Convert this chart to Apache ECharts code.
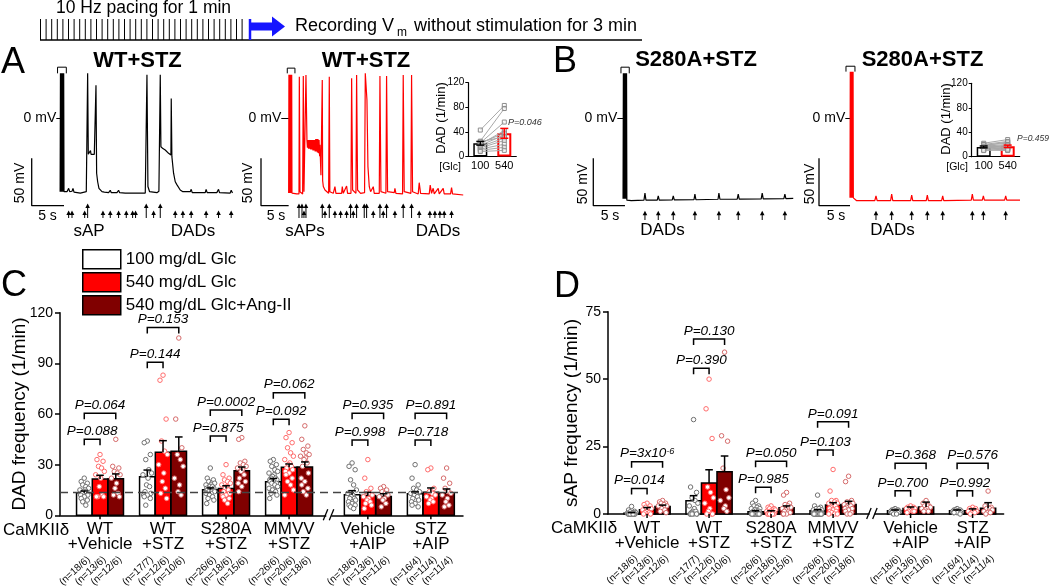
<!DOCTYPE html>
<html><head><meta charset="utf-8">
<script src="https://cdn.jsdelivr.net/npm/echarts@6/dist/echarts.min.js"></script>
<style>html,body{margin:0;padding:0;background:#fff}#c{width:1050px;height:588px}</style>
</head><body><div id="c"></div>
<script>
// ================= DATA =================
const GROUPS = ['WT\n+Vehicle', 'WT\n+STZ', 'S280A\n+STZ', 'MMVV\n+STZ', 'Vehicle\n+AIP', 'STZ\n+AIP'];
const SERIES_NAMES = ['100 mg/dL Glc', '540 mg/dL Glc', '540 mg/dL Glc+Ang-II'];
const N_LABELS = [
  ['(n=18/6)', '(n=13/6)', '(n=12/6)'], ['(n=17/7)', '(n=12/6)', '(n=10/6)'],
  ['(n=26/6)', '(n=18/6)', '(n=15/6)'], ['(n=26/6)', '(n=20/6)', '(n=18/6)'],
  ['(n=18/6)', '(n=13/6)', '(n=11/6)'], ['(n=16/4)', '(n=11/4)', '(n=11/4)']
];
// Panel C: DAD frequency (1/min)
const DAD_MEAN_100 = [13.4, 22.9, 15.2, 19.9, 12.2, 12.8];
const DAD_SEM_100  = [1.0, 3.9, 1.0, 1.9, 2.4, 1.2];
const DAD_MEAN_540 = [21.5, 37.3, 15.9, 28.4, 11.8, 13.6];
const DAD_SEM_540  = [2.2, 6.9, 1.6, 2.0, 1.8, 2.6];
const DAD_MEAN_ANG = [21.7, 37.9, 26.4, 28.6, 11.2, 13.2];
const DAD_SEM_ANG  = [2.8, 8.5, 2.2, 3.0, 1.6, 2.4];
const DAD_PTS_100 = [
  [22,20,19,18,17,16,15,15,14,14,13,12,12,11,10,9,8,6],
  [44,43,36,33,27,25,24,22,18,17,14,13,12,12,11,10,6],
  [28,22,21,20,19,19,18,18,17,17,16,16,16,15,15,15,14,14,14,13,13,12,11,10,9,7],
  [33,32,30,29,27,26,25,24,23,22,22,21,21,20,20,19,19,18,17,16,15,15,14,13,12,10],
  [31,29,27,21,18,15,13,12,11,10,10,9,8,7,6,6,5,4],
  [30,22,18,16,15,14,13,13,12,11,10,9,8,7,6,5]
];
const DAD_PTS_540 = [
  [36,33,32,29,28,26,24,22,17,12,11,11,11],
  [83,80,57,44,38,36,30,25,20,16,13,10],
  [30,24,22,21,20,19,18,17,16,15,14,13,12,12,11,10,9,7],
  [49,46,43,40,37,35,33,31,30,29,28,27,26,25,24,22,20,18,15,12],
  [33,22,16,14,13,12,11,10,9,8,7,6,4],
  [28,27,16,14,13,12,11,10,9,8,7]
];
const DAD_PTS_ANG = [
  [45,29,28,26,25,24,22,19,16,13,12,11],
  [105,57,40,36,33,29,22,18,14,12],
  [46,45,32,31,30,29,28,27,26,24,22,20,19,17,14],
  [53,45,41,39,37,36,35,34,33,31,29,25,22,20,18,16,14,12],
  [17,16,15,14,13,12,11,10,9,7,5],
  [28,22,19,16,14,13,12,10,8,6,5]
];
const DAD_REF_LINE = 13.4;
const DAD_TICKS = [0, 30, 60, 90, 120];
// brackets: [group, 0 = 100 vs 540, 1 = 100 vs Ang-II, height]
const DAD_BRACKETS = [[0,0,45],[0,1,60.4],[1,0,90.6],[1,1,111.3],[2,0,47],[2,1,62.4],[3,0,56.9],[3,1,72.6],[4,0,44.6],[4,1,60.4],[5,0,44.6],[5,1,60.4]];
const DAD_P = ['P=0.088','P=0.064','P=0.144','P=0.153','P=0.875','P=0.0002','P=0.092','P=0.062','P=0.998','P=0.935','P=0.718','P=0.891'];

// Panel D: sAP frequency (1/min)
const SAP_MEAN_100 = [0.3, 4.9, 0.8, 1.2, 1.2, 1.2];
const SAP_SEM_100  = [0.2, 1.9, 0.4, 0.4, 0.3, 0.3];
const SAP_MEAN_540 = [1.6, 11.5, 0.8, 3.3, 2.0, 1.2];
const SAP_SEM_540  = [0.8, 4.9, 0.4, 0.9, 0.6, 0.7];
const SAP_MEAN_ANG = [2.8, 15.7, 2.3, 3.5, 2.6, 2.1];
const SAP_SEM_ANG  = [0.5, 5.8, 0.7, 1.2, 1.8, 2.1];
const SAP_PTS_100 = [
  [2.8,1.5,1.0,0.8,0.5,0.5,0.3,0.2,0,0,0,0,0,0,0,0,0,0],
  [35,10,8,6,5,4,3,2,1,1,0.5,0,0,0,0,0,0],
  [5,4,3,3,2.5,2,2,1.5,1.5,1,1,1,0.5,0.5,0.5,0,0,0,0,0,0,0,0,0,0,0],
  [7,3,2.5,2,2,1.5,1.5,1,1,1,0.5,0.5,0.5,0,0,0,0,0,0,0,0,0,0,0,0,0],
  [2,1.5,1.5,1.5,1,1,1,1,1,1,1,1,0.5,0.5,0.5,0.5,0,0],
  [2,1.5,1.5,1.5,1,1,1,1,1,1,1,0.5,0.5,0.5,0.5,0]
];
const SAP_PTS_540 = [
  [4,3.5,3,2.5,2,2,1.5,1,1,0.5,0.5,0,0],
  [50,39,28,10,8,6,4,2,1,0,0,0],
  [3,2.5,2,2,1.5,1.5,1,1,1,0.5,0.5,0.5,0,0,0,0,0,0],
  [16.5,8.5,5,5,4.5,4,4,3.5,3,3,2.5,2,2,1.5,1,1,0.5,0,0,0],
  [3,2.5,2.5,2,2,2,2,1.5,1.5,1,1,1,0.5],
  [2.5,2,2,1.5,1.5,1,1,1,0.5,0.5,0]
];
const SAP_PTS_ANG = [
  [5,4.5,4,4,3.5,3,3,2.5,2,1.5,1,0.5],
  [60,29,27,17,9,6,5,3,2,1],
  [8,7,4,3.5,3,2.5,2,2,1.5,1,1,0.5,0,0,0],
  [14,12,5,4.5,4,4,3.5,3.5,3,3,2.5,2,2,1.5,1,0.5,0,0],
  [5,4,3,3,3,2.5,2,2,1.5,1,1],
  [8.5,3,2.5,2,2,1.5,1,1,0.5,0.5,0]
];
const SAP_TICKS = [0, 25, 50, 75];
const SAP_BRACKETS = [[0,0,9.5],[0,1,19.4],[1,0,54],[1,1,64.9],[2,0,9.9],[2,1,19.6],[3,0,23.7],[3,1,34.2],[4,0,8.6],[4,1,18.8],[5,0,8.6],[5,1,18.8]];
const SAP_P = ['P=0.014','P=3x10^-6','P=0.390','P=0.130','P=0.985','P=0.050','P=0.103','P=0.091','P=0.700','P=0.368','P=0.992','P=0.576'];

// Membrane potential traces: [time (s), Vm (mV)]
const TRACE_WT_100 = [[-0.6,-77.5],[-0.55,47.5],[-0.5,-77.5],[-0.45,47.5],[-0.4,-77.5],[-0.35,47.5],[-0.3,-77.5],[-0.25,47.5],[-0.2,-77.5],[-0.15,47.5],[-0.1,-77.5],[-0.05,47.5],[0,-77.5],[0.46,-77.5],[0.72,-74],[0.88,-77.5],[1.24,-77],[1.39,-74],[1.55,-78],[2.53,-79],[3.45,-77.5],[3.6,-77],[3.66,47.5],[3.76,-38],[3.97,-39],[4.1,-34],[4.18,-38],[4.33,-36],[4.48,-40],[4.69,-38],[4.85,-40],[4.95,35],[5.05,-58],[5.21,-67],[5.41,-74],[5.88,-77.5],[6.13,-76],[6.24,-78],[6.91,-78.5],[7.16,-76],[7.32,-78.5],[8.2,-78.5],[8.45,-76],[8.61,-78.5],[9.48,-79],[9.64,-77],[9.79,-79],[10.52,-79],[10.77,-77],[10.93,-79],[11.08,-77],[11.24,-79],[12.58,-79],[12.73,-77.5],[12.84,46],[12.99,-72],[13.25,-77.5],[14.38,-78.5],[14.69,-77],[14.85,-77],[14.9,46],[15.0,-30],[15.31,-32],[15.67,-33.5],[16.19,-37],[16.55,-38.7],[16.6,21],[16.7,-40.5],[16.96,-58],[17.22,-67],[17.47,-70],[17.99,-75.7],[18.25,-74],[18.4,-77.5],[19.54,-77.5],[19.69,-75],[19.85,-78.5],[21.86,-78.5],[22.0,-75],[22.16,-78.5],[23.66,-78.5],[23.92,-75],[24.07,-78.5],[25.72,-79],[25.88,-76],[26.08,-79]];
const TRACE_WT_540 = [[0,-79],[0.05,46],[0.1,-79],[0.15,46],[0.2,-79],[0.25,46],[0.3,-79],[0.35,46],[0.4,-79],[0.45,46],[0.5,-79],[0.55,46],[0.6,-79],[0.72,-79.2],[1.45,-79.9],[1.87,-79.9],[1.93,44],[2.05,-77.5],[2.53,-79.9],[2.65,44.7],[2.77,-77.5],[3.07,-79.2],[3.13,45.8],[3.31,-23],[3.4,-31],[3.5,-23],[3.6,-32],[3.7,-23],[3.8,-32],[3.9,-23],[4.0,-33],[4.1,-23],[4.2,-33],[4.3,-23],[4.4,-34],[4.5,-23],[4.6,-34],[4.7,-23],[4.8,-35],[4.9,-22],[5.0,-35],[5.1,-22],[5.2,-36],[5.3,-22],[5.4,-37],[5.5,-23],[5.6,-40],[5.66,-28],[5.84,-60],[5.96,-62],[6.08,40.5],[6.15,-66],[6.27,-72],[6.57,-75.7],[6.87,-77.5],[7.23,-79.2],[7.35,44],[7.45,-77.5],[8.07,-79.2],[8.37,-72.2],[8.55,-79.2],[9.58,-79.2],[9.7,-72],[9.88,-79.2],[10.48,-71.5],[10.66,-79.2],[11.27,-79.2],[11.39,42.3],[11.57,-75.7],[12.17,-79.2],[12.29,45.8],[12.47,-75.7],[13.01,-79.2],[13.73,-78.5],[13.86,47.5],[14.04,45.8],[14.16,19.4],[14.34,-51],[14.58,-72.2],[14.82,-77.5],[15.3,-72.2],[15.48,-79.2],[16.39,-79.2],[16.51,44.7],[16.69,-77.5],[17.59,-79.2],[17.71,44.7],[17.89,-77.5],[19.1,-78.5],[19.22,-73.9],[19.4,-79.2],[20.6,-79.9],[20.72,45.8],[20.9,-77.5],[22.11,-79.2],[22.23,45.8],[22.41,-77.5],[23.43,-79.9],[23.61,-68],[23.86,-79.2],[25.42,-79.9],[25.6,-70.4],[25.84,-79.2],[26.14,-73.9],[26.33,-79.9],[27.05,-73.9],[27.23,-79.9],[27.95,-73.9],[28.13,-79.9],[29.28,-79.9],[29.46,-73.2],[29.64,-79.9],[31.57,-81]];
const TRACE_S280A_100 = [[-0.3,-85],[-0.25,47.5],[-0.2,-85],[-0.15,47.5],[-0.1,-85],[-0.05,47.5],[0,-85],[0.05,47.5],[0.1,-85],[0.15,47.5],[0.2,-85],[0.25,47.5],[0.3,-86.5],[1,-87],[3.0,-86.5],[3.16,-79],[3.32,-86.5],[5.1,-86.5],[5.26,-82],[5.42,-86.5],[7.47,-86.2],[7.63,-82],[7.79,-86.2],[10.9,-86],[11.05,-80],[11.21,-86],[14.7,-85.5],[14.84,-79],[15.0,-85.5],[17.73,-85.3],[17.89,-80],[18.05,-85.3],[21.52,-85],[21.68,-79],[21.84,-85],[25.1,-84.8],[25.26,-80],[25.42,-84.8],[26.58,-84.6]];
const TRACE_S280A_540 = [[0,-84],[0.045,49.3],[0.09,-84],[0.135,49.3],[0.18,-84],[0.225,49.3],[0.27,-84],[0.315,49.3],[0.36,-84],[0.405,49.3],[0.45,-84],[0.495,49.3],[0.54,-84],[0.8,-86],[1.08,-87],[4.0,-87],[4.19,-82],[4.38,-87],[6.55,-87],[6.72,-80],[6.9,-87],[9.78,-87],[9.95,-81],[10.12,-87],[12.3,-87],[12.47,-81],[12.64,-87],[14.78,-87],[14.95,-82],[15.12,-87],[19.56,-86.5],[19.73,-80],[19.9,-86.5],[21.34,-86.5],[21.51,-82],[21.68,-86.5],[24.94,-86.5],[25.11,-82],[25.28,-86.5],[27.42,-86.5]];
// event arrows: [time (s), 1 = sAP (tall) / 0 = DAD (short)]
const EVENTS_WT_100 = [[0.72,0],[1.24,0],[3.2,0],[3.66,1],[6.03,0],[7.16,0],[8.45,0],[9.64,0],[10.62,0],[11.08,0],[12.73,1],[13.87,0],[14.9,1],[17.22,0],[18.4,0],[19.69,0],[22.0,0],[23.92,0],[25.88,0]];
const EVENTS_WT_540 = [[1.87,1],[2.41,1],[2.77,0],[3.13,1],[6.08,1],[6.57,0],[7.35,1],[8.37,0],[9.4,0],[10.48,0],[11.2,1],[11.69,0],[12.29,1],[13.67,1],[14.1,1],[15.3,0],[16.51,1],[17.11,0],[17.71,1],[19.22,0],[20.72,1],[22.23,1],[23.61,0],[25.54,0],[26.45,0],[27.35,0],[28.13,0],[29.46,0]];
const EVENTS_S280A_100 = [[3.16,0],[5.26,0],[7.63,0],[11.05,0],[14.84,0],[17.89,0],[21.68,0],[25.26,0]];
const EVENTS_S280A_540 = [[4.19,0],[6.72,0],[9.95,0],[12.47,0],[14.95,0],[19.73,0],[21.51,0],[25.11,0]];
// Insets: paired DAD frequency (1/min), 100 vs 540 mg/dL
const INSET_WT_100 = [43,25,22,20,18,16,14,12,10,8,22,24];
const INSET_WT_540 = [83,78,56,42,35,30,26,20,15,10,38,32];
const INSET_WT_MEAN = [21.5, 37.7];
const INSET_WT_SEM = [3, 8];
const INSET_S280A_100 = [22,20,19,18,17,16,15,15,14,13,12,11,10,20,17];
const INSET_S280A_540 = [28,25,22,24,20,18,16,14,19,12,15,10,13,14,11];
const INSET_S280A_MEAN = [16, 17];
const INSET_S280A_SEM = [1.5, 2];
const INSET_CATS = ['100', '540'];
const SCALE_MV = 50, SCALE_S = 5;
const PACING_TICK_COUNT = 37;

// ================= STYLE / LAYOUT =================
const FONT = 'Liberation Sans';
const GROUP_POS = [1, 2, 3, 4, 5.25, 6.25];
const BREAK_X = 4.63;
const BAR_STEP = 0.25, BAR_W = 0.245;
const BAR_FILLS = ['#ffffff', '#ff0000', '#800000'];
const DOT_STROKES = ['#707070', '#ff6b6b', '#d56a6a'];
const JIT = [0, -0.6, 0.6, -0.3, 0.3, 0.85, -0.85, 0.15, -0.15, 0.45, -0.45, 0.7, -0.7];

function barPanel(gi, means, sems, pts, brackets, plabels) {
  const out = [];
  for (let k = 0; k < 3; k++) {
    out.push({
      type: 'custom', name: SERIES_NAMES[k], xAxisIndex: gi, yAxisIndex: gi, z: 2, silent: true,
      data: means[k].map((m, g) => [g, m, sems[k][g]]),
      renderItem: (p, api) => {
        const g = api.value(0), m = api.value(1);
        const xc = GROUP_POS[g] + (k - 1) * BAR_STEP;
        const a = api.coord([xc - BAR_W / 2, m]), b = api.coord([xc + BAR_W / 2, 0]);
        return { type: 'rect', shape: { x: a[0], y: a[1], width: b[0] - a[0], height: b[1] - a[1] },
          style: { fill: BAR_FILLS[k], stroke: '#000', lineWidth: 1.5 } };
      }
    });
    const dots = [];
    pts[k].forEach((vals, g) => vals.forEach((v, i) => {
      dots.push([GROUP_POS[g] + (k - 1) * BAR_STEP + JIT[i % JIT.length] * BAR_W * 0.33, v]);
    }));
    out.push({ type: 'scatter', xAxisIndex: gi, yAxisIndex: gi, z: 3, silent: true, data: dots,
      symbol: 'circle', symbolSize: 4.5,
      itemStyle: { color: '#fff', borderColor: DOT_STROKES[k], borderWidth: 1, opacity: 1 } });
    out.push({
      type: 'custom', xAxisIndex: gi, yAxisIndex: gi, z: 4, silent: true,
      data: means[k].map((m, g) => [g, m, sems[k][g]]),
      renderItem: (p, api) => {
        const g = api.value(0), m = api.value(1), s = api.value(2);
        const xc = GROUP_POS[g] + (k - 1) * BAR_STEP;
        const t = api.coord([xc, m + s]), b = api.coord([xc, m]);
        return { type: 'group', children: [
          { type: 'line', shape: { x1: t[0], y1: b[1], x2: t[0], y2: t[1] }, style: { stroke: '#000', lineWidth: 1.5 } },
          { type: 'line', shape: { x1: t[0] - 3.8, y1: t[1], x2: t[0] + 3.8, y2: t[1] }, style: { stroke: '#000', lineWidth: 1.5 } }
        ] };
      }
    });
  }
  // brackets with P values
  out.push({
    type: 'custom', xAxisIndex: gi, yAxisIndex: gi, z: 5, silent: true, data: brackets,
    renderItem: (p, api) => {
      const g = api.value(0), big = api.value(1), y = api.value(2);
      const a = api.coord([GROUP_POS[g] - BAR_STEP, y]);
      const b = api.coord([GROUP_POS[g] + (big ? BAR_STEP : 0), y]);
      const lab = plabels[p.dataIndex];
      let text;
      if (lab.indexOf('^') >= 0) {
        const parts = lab.split('^');
        text = '{b|' + parts[0] + '}{s|' + parts[1] + '}';
      } else text = '{b|' + lab + '}';
      const rich = { b: { fontSize: 13.5, fontStyle: 'italic', fontFamily: FONT, fill: '#000', color: '#000' },
               s: { fontSize: 9, fontStyle: 'italic', fontFamily: FONT, verticalAlign: 'top', fill: '#000', color: '#000' } };
      return { type: 'group', children: [
        { type: 'polyline', shape: { points: [[a[0], a[1] + 6], [a[0], a[1]], [b[0], a[1]], [b[0], a[1] + 6]] },
          style: { stroke: '#000', lineWidth: 1.5, fill: null } },
        { type: 'text', x: (a[0] + b[0]) / 2, y: a[1] - 1,
          style: { text, rich, align: 'center', verticalAlign: 'bottom', textAlign: 'center', textVerticalAlign: 'bottom',
            fontSize: 13.5, fontStyle: 'italic', fontFamily: FONT, fill: '#000' } }
      ] };
    }
  });
  // category labels, ticks, n labels
  out.push({
    type: 'custom', xAxisIndex: gi, yAxisIndex: gi, z: 5, silent: true,
    data: GROUPS.map((_, g) => [g, 0]),
    renderItem: (p, api) => {
      const g = api.value(0);
      const c = api.coord([GROUP_POS[g], 0]);
      const ch = [
        { type: 'line', shape: { x1: c[0], y1: c[1], x2: c[0], y2: c[1] + 4 }, style: { stroke: '#000', lineWidth: 1.5 } },
        { type: 'text', x: c[0], y: c[1] + 7, style: { text: GROUPS[g], fontSize: 17, lineHeight: 15, fontFamily: FONT, fill: '#000',
          align: 'center', verticalAlign: 'top', textAlign: 'center', textVerticalAlign: 'top' } }
      ];
      for (let k = 0; k < 3; k++) {
        const bx = api.coord([GROUP_POS[g] + (k - 1) * BAR_STEP, 0])[0];
        ch.push({ type: 'text', x: bx + 4.5, y: c[1] + 43, rotation: 42 * Math.PI / 180,
          style: { text: N_LABELS[g][k], fontSize: 10, fontFamily: FONT, fill: '#000',
            align: 'right', verticalAlign: 'middle', textAlign: 'right', textVerticalAlign: 'middle' } });
      }
      return { type: 'group', children: ch };
    }
  });
  // axis break
  out.push({
    type: 'custom', xAxisIndex: gi, yAxisIndex: gi, z: 6, silent: true, data: [[BREAK_X, 0]],
    renderItem: (p, api) => {
      const c = api.coord([api.value(0), api.value(1)]);
      return { type: 'group', children: [
        { type: 'rect', shape: { x: c[0] - 2.5, y: c[1] - 2, width: 5, height: 4 }, style: { fill: '#fff' } },
        { type: 'line', shape: { x1: c[0] - 5.5, y1: c[1] + 5, x2: c[0] - 1, y2: c[1] - 6 }, style: { stroke: '#000', lineWidth: 1.3 } },
        { type: 'line', shape: { x1: c[0] + 0.5, y1: c[1] + 5, x2: c[0] + 5, y2: c[1] - 6 }, style: { stroke: '#000', lineWidth: 1.3 } }
      ] };
    }
  });
  return out;
}

function traceSeries(gi, data, color, events, arrowBase, arrowTall, arrowShort, paceMark) {
  const sbBottom = -92.3;
  return [
    { type: 'line', xAxisIndex: gi, yAxisIndex: gi, data, symbol: 'none', silent: true,
      lineStyle: { color, width: 1.2 }, z: 2 },
    { type: 'line', xAxisIndex: gi, yAxisIndex: gi, symbol: 'none', silent: true,
      data: [[-SCALE_S, sbBottom + SCALE_MV], [-SCALE_S, sbBottom], [0, sbBottom]],
      lineStyle: { color: '#000', width: 1.3 } },
    { type: 'line', xAxisIndex: gi, yAxisIndex: gi, symbol: 'none', silent: true,
      data: paceMark, lineStyle: { color: '#000', width: 1 } },
    { type: 'custom', xAxisIndex: gi, yAxisIndex: gi, silent: true, data: events,
      renderItem: (p, api) => {
        const t = api.value(0), tall = api.value(1);
        const b = api.coord([t, arrowBase]), tp = api.coord([t, tall ? arrowTall : arrowShort]);
        return { type: 'group', children: [
          { type: 'line', shape: { x1: b[0], y1: b[1], x2: b[0], y2: tp[1] + 3 }, style: { stroke: '#000', lineWidth: 1 } },
          { type: 'polygon', shape: { points: [[tp[0] - 2.3, tp[1] + 4.5], [tp[0], tp[1]], [tp[0] + 2.3, tp[1] + 4.5]] }, style: { fill: '#000' } }
        ] };
      } }
  ];
}

function insetSeries(gi, left, right, means, sems) {
  return [
    { type: 'bar', xAxisIndex: gi, yAxisIndex: gi, barWidth: 14, silent: true, z: 2,
      data: [{ value: means[0], itemStyle: { color: '#fff', borderColor: '#000', borderWidth: 1.5 } },
             { value: means[1], itemStyle: { color: '#fff', borderColor: '#ff0000', borderWidth: 2 } }] },
    { type: 'custom', xAxisIndex: gi, yAxisIndex: gi, silent: true, z: 3,
      data: left.map((l, i) => [l, right[i]]),
      renderItem: (p, api) => {
        const a = api.coord([0, api.value(0)]), b = api.coord([1, api.value(1)]);
        const sq = (q) => ({ type: 'rect', shape: { x: q[0] - 2, y: q[1] - 2, width: 4, height: 4 }, style: { fill: 'rgba(255,255,255,0.6)', stroke: '#8c8c8c', lineWidth: 1 } });
        return { type: 'group', children: [
          { type: 'line', shape: { x1: a[0], y1: a[1], x2: b[0], y2: b[1] }, style: { stroke: '#a8a8a8', lineWidth: 1 } },
          sq(a), sq(b)
        ] };
      } },
    { type: 'custom', xAxisIndex: gi, yAxisIndex: gi, silent: true, z: 4,
      data: means.map((m, i) => [i, m, sems[i]]),
      renderItem: (p, api) => {
        const i = api.value(0), m = api.value(1), s = api.value(2);
        const t = api.coord([i, m + s]), b = api.coord([i, m - s]);
        const col = i === 0 ? '#000' : '#ff0000';
        return { type: 'group', children: [
          { type: 'line', shape: { x1: t[0], y1: t[1], x2: t[0], y2: b[1] }, style: { stroke: col, lineWidth: 1.5 } },
          { type: 'line', shape: { x1: t[0] - 4, y1: t[1], x2: t[0] + 4, y2: t[1] }, style: { stroke: col, lineWidth: 1.5 } },
          { type: 'line', shape: { x1: t[0] - 4, y1: b[1], x2: t[0] + 4, y2: b[1] }, style: { stroke: col, lineWidth: 1.5 } }
        ] };
      } }
  ];
}

// ============ axes ============
const hiddenX = (min, max, gi) => ({ type: 'value', gridIndex: gi, min, max, show: false });
const hiddenY = (gi) => ({ type: 'value', gridIndex: gi, min: -115, max: 60, show: false });
const insetX = (gi) => ({ type: 'category', gridIndex: gi, data: INSET_CATS,
  axisLine: { lineStyle: { color: '#000', width: 1.2 } }, axisTick: { alignWithLabel: true, length: 3, lineStyle: { color: '#000' } },
  axisLabel: { fontSize: 11, margin: 4, color: '#000', fontFamily: FONT } });
const insetY = (gi) => ({ type: 'value', gridIndex: gi, min: 0, max: 120, interval: 40,
  axisLine: { show: true, lineStyle: { color: '#000', width: 1.2 } }, axisTick: { show: true, length: 3, lineStyle: { color: '#000' } },
  axisLabel: { fontSize: 10, margin: 4, color: '#000', fontFamily: FONT }, splitLine: { show: false } });
const mainX = (gi, min, max) => ({ type: 'value', gridIndex: gi, min, max,
  axisLine: { show: true, onZero: false, lineStyle: { color: '#000', width: 1.5 } },
  axisTick: { show: false }, axisLabel: { show: false }, splitLine: { show: false } });
const mainY = (gi, ticks) => ({ type: 'value', gridIndex: gi, min: ticks[0], max: ticks[ticks.length - 1], interval: ticks[1] - ticks[0],
  axisLine: { show: true, lineStyle: { color: '#000', width: 1.5 } },
  axisTick: { show: true, length: 5, lineStyle: { color: '#000', width: 1.5 } },
  axisLabel: { fontSize: 14, margin: 7, color: '#000', fontFamily: FONT }, splitLine: { show: false } });

const grid = (left, top, width, height) => ({ left, top, width, height, containLabel: false, outerBoundsMode: 'none' });

// ============ graphic texts ============
function T(x, y, text, size, o) {
  o = o || {};
  const al = o.align || 'center', va = o.va || 'middle';
  return { type: 'text', x, y, rotation: o.rot || 0, silent: true,
    style: { text, fontSize: size, fontFamily: FONT, fontWeight: o.bold ? 'bold' : 'normal', fontStyle: o.italic ? 'italic' : 'normal',
      fill: o.color || '#000', align: al, verticalAlign: va, textAlign: al, textVerticalAlign: va } };
}
const R90 = Math.PI / 2;
const graphics = [];
// protocol schematic
graphics.push({ type: 'line', silent: true, shape: { x1: 40, y1: 40, x2: 642, y2: 40 }, style: { stroke: '#000', lineWidth: 1.5 } });
for (let i = 0; i < PACING_TICK_COUNT; i++) {
  const x = 40.5 + i * 5.6;
  graphics.push({ type: 'line', silent: true, shape: { x1: x, y1: 19, x2: x, y2: 40 }, style: { stroke: '#000', lineWidth: 1 } });
}
graphics.push({ type: 'line', silent: true, shape: { x1: 250, y1: 19, x2: 250, y2: 40 }, style: { stroke: '#1515ff', lineWidth: 2.5 } });
graphics.push({ type: 'polygon', silent: true, shape: { points: [[251, 22.5], [272, 22.5], [272, 16.5], [285, 26.5], [272, 36.5], [272, 30.5], [251, 30.5]] }, style: { fill: '#1515ff' } });
graphics.push(T(56, 8.5, '10 Hz pacing for 1 min', 17.5, { align: 'left' }));
graphics.push(T(295, 26, 'Recording V', 18, { align: 'left' }));
graphics.push(T(397, 32.5, 'm', 12, { align: 'left' }));
graphics.push(T(414, 26, 'without stimulation for 3 min', 18, { align: 'left' }));
// panel letters & titles
graphics.push(T(1, 63, 'A', 36, { align: 'left' }));
graphics.push(T(553, 62, 'B', 36, { align: 'left' }));
graphics.push(T(1, 286, 'C', 36, { align: 'left' }));
graphics.push(T(554, 287, 'D', 36, { align: 'left' }));
graphics.push(T(137.5, 61, 'WT+STZ', 22, { bold: true }));
graphics.push(T(366, 61, 'WT+STZ', 22, { bold: true }));
graphics.push(T(696, 60, 'S280A+STZ', 22, { bold: true }));
graphics.push(T(922.5, 60, 'S280A+STZ', 22, { bold: true }));
// trace annotations
[[64], [289], [625], [853]].forEach(([x]) => graphics.push(T(x, 118.3, '0 mV–', 14, { align: 'right' })));
[[20, 183], [248, 183], [583, 184], [810, 184]].forEach(([x, y]) => graphics.push(T(x, y, '50 mV', 14, { rot: R90 })));
[[47.5], [276], [610], [836]].forEach(([x]) => graphics.push(T(x, 216, '5 s', 14)));
graphics.push(T(89, 231, 'sAP', 17));
graphics.push(T(193, 231, 'DADs', 17));
graphics.push(T(305, 231, 'sAPs', 17));
graphics.push(T(438, 231, 'DADs', 17));
graphics.push(T(662.5, 230, 'DADs', 17));
graphics.push(T(892.5, 230, 'DADs', 17));
// insets
graphics.push(T(441, 118, 'DAD (1/min)', 13, { rot: R90 }));
graphics.push(T(450, 167.5, '[Glc]', 10.5));
graphics.push(T(508, 122, 'P=0.046', 9, { align: 'left', italic: true, color: '#333' }));
graphics.push(T(946, 119, 'DAD (1/min)', 13, { rot: R90 }));
graphics.push(T(957, 167.5, '[Glc]', 10.5));
graphics.push(T(1017, 139, 'P=0.459', 8.5, { align: 'left', italic: true, color: '#333' }));
// bar panel annotations
graphics.push(T(20, 414, 'DAD frequency (1/min)', 19, { rot: R90 }));
graphics.push(T(572, 413, 'sAP frequency (1/min)', 19, { rot: R90 }));
graphics.push(T(3, 530, 'CaMKIIδ', 17, { align: 'left' }));
graphics.push(T(551, 528, 'CaMKIIδ', 17, { align: 'left' }));

// ============ series ============
let series = [];
series = series.concat(traceSeries(0, TRACE_WT_100, '#000000', EVENTS_WT_100, -105.3, -90, -97.4, [[-1, 47.5], [-1, 54], [0.36, 54], [0.36, 47.5]]));
series = series.concat(traceSeries(1, TRACE_WT_540, '#ff0000', EVENTS_WT_540, -105.3, -90, -97.4, [[-0.25, 47.5], [-0.25, 53], [1.14, 53], [1.14, 47.5]]));
series = series.concat(insetSeries(2, INSET_WT_100, INSET_WT_540, INSET_WT_MEAN, INSET_WT_SEM));
series = series.concat(traceSeries(3, TRACE_S280A_100, '#000000', EVENTS_S280A_100, -107.4, -92, -97.5, [[-0.63, 47.5], [-0.63, 54], [0.68, 54], [0.68, 47.5]]));
series = series.concat(traceSeries(4, TRACE_S280A_540, '#ff0000', EVENTS_S280A_540, -107.4, -92, -97.5, [[-0.65, 49.3], [-0.65, 55], [0.8, 55], [0.8, 49.3]]));
series = series.concat(insetSeries(5, INSET_S280A_100, INSET_S280A_540, INSET_S280A_MEAN, INSET_S280A_SEM));
const cPanel = barPanel(6, [DAD_MEAN_100, DAD_MEAN_540, DAD_MEAN_ANG], [DAD_SEM_100, DAD_SEM_540, DAD_SEM_ANG],
  [DAD_PTS_100, DAD_PTS_540, DAD_PTS_ANG], DAD_BRACKETS, DAD_P);
cPanel[0].markLine = { silent: true, symbol: 'none', label: { show: false },
  lineStyle: { color: '#444', type: [8, 5], width: 1.3 }, data: [{ yAxis: DAD_REF_LINE }] };
series = series.concat(cPanel);
series = series.concat(barPanel(7, [SAP_MEAN_100, SAP_MEAN_540, SAP_MEAN_ANG], [SAP_SEM_100, SAP_SEM_540, SAP_SEM_ANG],
  [SAP_PTS_100, SAP_PTS_540, SAP_PTS_ANG], SAP_BRACKETS, SAP_P));

const option = {
  backgroundColor: '#fff',
  animation: false,
  textStyle: { fontFamily: FONT, color: '#000' },
  legend: {
    left: 77, top: 244, orient: 'vertical', itemWidth: 38, itemHeight: 19, itemGap: 2.5, selectedMode: false,
    textStyle: { fontSize: 17, color: '#000', fontFamily: FONT },
    data: SERIES_NAMES.map((n, k) => ({ name: n, icon: 'rect', itemStyle: { color: BAR_FILLS[k], borderColor: '#000', borderWidth: 1.5 } }))
  },
  grid: [
    grid(31.7, 61.5, 203.5, 165.7),
    grid(261, 61.5, 204.6, 165.7),
    grid(468.3, 82.7, 48, 73.8),
    grid(593.3, 61.5, 202.6, 165.7),
    grid(819, 61.5, 204.6, 165.7),
    grid(971.7, 83.3, 48, 73.4),
    grid(60, 312.7, 403, 202.6),
    grid(608, 311.7, 395.6, 202.3)
  ],
  xAxis: [hiddenX(-5, 26.5, 0), hiddenX(-5, 32, 1), insetX(2), hiddenX(-5, 27, 3), hiddenX(-5, 28, 4), insetX(5),
    mainX(6, 0.365, 6.76), mainX(7, 0.37, 6.75)],
  yAxis: [hiddenY(0), hiddenY(1), insetY(2), hiddenY(3), hiddenY(4), insetY(5), mainY(6, DAD_TICKS), mainY(7, SAP_TICKS)],
  graphic: { elements: graphics },
  series
};
const chart = echarts.init(document.getElementById('c'), null, { renderer: 'canvas' });
chart.setOption(option);
</script></body></html>
